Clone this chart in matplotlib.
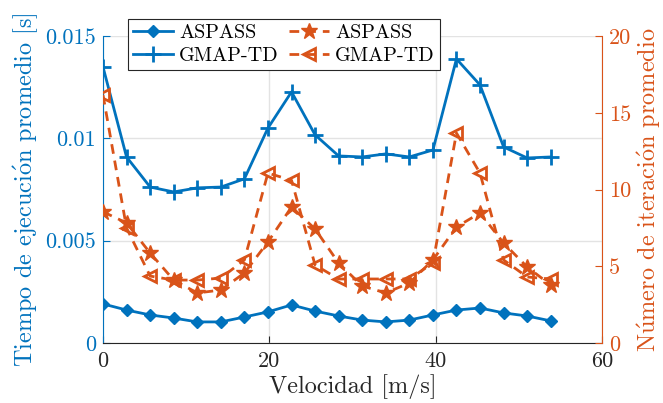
import matplotlib
matplotlib.use("Agg")
import matplotlib.pyplot as plt
from matplotlib.ticker import FixedLocator

plt.rcParams['font.family'] = ['cmr10', 'DejaVu Serif']
plt.rcParams['mathtext.fontset'] = 'cm'
plt.rcParams['axes.unicode_minus'] = False

# Velocidad [m/s]
velocidad = [0, 2.83, 5.67, 8.5, 11.33, 14.17, 17, 19.83, 22.67, 25.5,
             28.33, 31.17, 34, 36.83, 39.67, 42.5, 45.33, 48.17, 51, 53.83]

# Tiempo de ejecución promedio [s]
tiempo_aspass = [0.00191, 0.00161, 0.00137, 0.00122, 0.00103, 0.00103, 0.00127,
                 0.00152, 0.00186, 0.00156, 0.00132, 0.00112, 0.00103, 0.00112,
                 0.00137, 0.00161, 0.00171, 0.00147, 0.00132, 0.00108]
tiempo_gmap = [0.01349, 0.00909, 0.00762, 0.00738, 0.00758, 0.00762, 0.00802,
               0.01050, 0.01227, 0.01017, 0.00914, 0.00909, 0.00924, 0.00909,
               0.00943, 0.01388, 0.01261, 0.00958, 0.00904, 0.00909]

# Número de iteración promedio
iter_aspass = [8.55, 7.82, 5.86, 4.10, 3.26, 3.45, 4.56, 6.58, 8.86, 7.43,
               5.21, 3.71, 3.26, 3.91, 5.41, 7.56, 8.47, 6.51, 4.95, 3.78]
iter_gmap = [16.16, 7.50, 4.36, 4.10, 4.10, 4.23, 5.41, 11.07, 10.60, 5.08,
             4.17, 4.17, 4.17, 4.17, 5.21, 13.68, 11.07, 5.41, 4.30, 4.17]

x_ticks = [0, 20, 40, 60]
y1_ticks = [0, 0.005, 0.01, 0.015]
y1_ticklabels = ['0', '0.005', '0.01', '0.015']
y2_ticks = [0, 5, 10, 15, 20]

series_names = ['ASPASS', 'GMAP-TD']

# Accented letters composed with mathtext so they stay in Computer Modern
xlabel = 'Velocidad [m/s]'
ylabel_left = r'Tiempo de ejecuci$\acute{\rm o}$n promedio [s]'
ylabel_right = r'N$\acute{\rm u}$mero de iteraci$\acute{\rm o}$n promedio'

BLUE = '#0072BD'
ORANGE = '#D95319'
DARK = '#262626'

fig = plt.figure(figsize=(6.63, 4.03), dpi=100)
ax = fig.add_axes([103 / 663, 1 - 343 / 403, (602 - 103) / 663, (343 - 36) / 403])
ax2 = ax.twinx()

l1, = ax.plot(velocidad, tiempo_aspass, color=BLUE, lw=2, marker='D', ms=6.5,
              mfc=BLUE, mec=BLUE, label=series_names[0])
l2, = ax.plot(velocidad, tiempo_gmap, color=BLUE, lw=2, marker='+', ms=11,
              mew=2, label=series_names[1])

dash = (0, (3.5, 2.5))
l3, = ax2.plot(velocidad, iter_aspass, color=ORANGE, lw=2, ls=dash, marker='*',
               ms=12, mfc=ORANGE, mec=ORANGE, label=series_names[0])
l4, = ax2.plot(velocidad, iter_gmap, color=ORANGE, lw=2, ls=dash, marker='<',
               ms=9, mfc='none', mec=ORANGE, mew=2, label=series_names[1])

ax.set_xlim(0, 60)
ax.set_ylim(0, 0.015)
ax2.set_ylim(0, 20)

ax.xaxis.set_major_locator(FixedLocator(x_ticks))
ax.set_yticks(y1_ticks)
ax.set_yticklabels(y1_ticklabels)
ax2.set_yticks(y2_ticks)

ax.grid(True, color='#e3e3e3', lw=1)
ax.set_axisbelow(True)

for a in (ax, ax2):
    a.tick_params(direction='in', length=5, width=0.8, labelsize=16)
    a.spines['top'].set_visible(False)

ax.spines['left'].set_color(BLUE)
ax.spines['bottom'].set_color(DARK)
ax.spines['right'].set_visible(False)
ax2.spines['left'].set_visible(False)
ax2.spines['bottom'].set_visible(False)
ax2.spines['right'].set_color(ORANGE)

ax.tick_params(axis='y', colors=BLUE, pad=5)
ax.tick_params(axis='x', colors=DARK, pad=6)
ax2.tick_params(axis='y', colors=ORANGE, pad=5)

ax.set_xlabel(xlabel, fontsize=17.5, color=DARK, labelpad=2)
ax.set_ylabel(ylabel_left, fontsize=17.5, color=BLUE, labelpad=4)
ax2.set_ylabel(ylabel_right, fontsize=17.5, color=ORANGE, labelpad=3)

leg = fig.legend([l1, l2, l3, l4], [series_names[0], series_names[1],
                                    series_names[0], series_names[1]],
                 ncol=2, loc='upper left', bbox_to_anchor=(128 / 663, 1 - 19 / 403),
                 borderaxespad=0, fontsize=14.5, handlelength=2.0, columnspacing=0.5,
                 handletextpad=0.3, labelspacing=0.25, borderpad=0.25,
                 fancybox=False, framealpha=1, edgecolor=DARK)
leg.get_frame().set_linewidth(0.8)

fig.savefig('out.png', dpi=100)
